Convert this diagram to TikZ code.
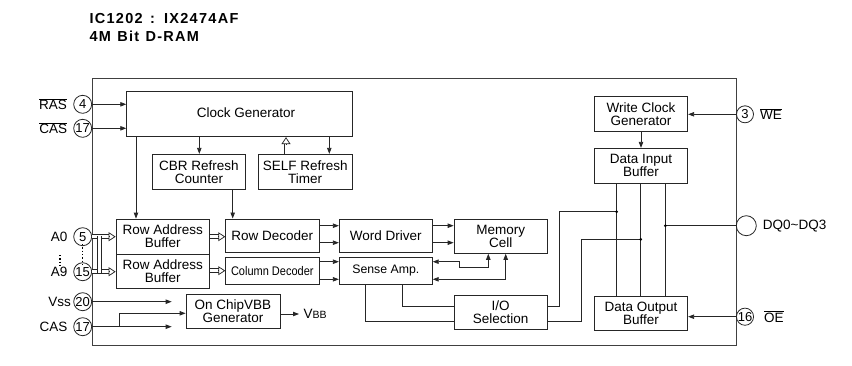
\documentclass[tikz,border=0pt]{standalone}
\usepackage{graphicx}
\usepackage{fontspec}
\setmainfont{Liberation Sans}
\newfontfamily\titlefont[LetterSpace=9]{Liberation Sans}
\usetikzlibrary{arrows.meta}
\begin{document}
\begin{tikzpicture}[x=1pt,y=-1pt,
  every node/.style={font=\fontsize{13.5}{13}\selectfont},
  box/.style={draw=black!85, line width=0.8pt, inner sep=0pt, align=center},
  ln/.style={draw=black!85, line width=0.8pt},
  arr/.style={ln, -{Triangle[length=6pt,width=4.4pt]}},
  biarr/.style={ln, {Triangle[length=6pt,width=4.4pt]}-{Triangle[length=6pt,width=4.4pt]}},
  dbl/.style={draw=black!85, line width=0.75pt, double, double distance=3pt},
  hollow/.style={dbl, shorten >=6.5pt},
  htip/.style={draw=black!85, line width=0.75pt, -{Triangle[open,length=7pt,width=9pt,line width=0.75pt]}},
  pin/.style={circle, draw=black!85, line width=0.8pt, inner sep=0pt, minimum size=18pt, font=\fontsize{13}{13}\selectfont},
  lbl/.style={inner sep=0pt},
  jdot/.style={circle, fill=black, inner sep=0pt, minimum size=3pt},
]
\useasboundingbox (0,0) rectangle (852,365);

% title
\node[lbl, anchor=base west, font=\titlefont\bfseries\fontsize{14.5}{14.5}\selectfont] (t1) at (89.3,23.3) {IC1202\hspace{2pt} :\hspace{2pt} IX2474AF};
\node[lbl, anchor=base west, font=\titlefont\bfseries\fontsize{14.5}{14.5}\selectfont] (t2) at (89.3,41.7) {4M\hspace{1pt} Bit\hspace{1pt} D-RAM};

% chip outline
\node[box, draw=black!75, minimum width=644.7pt, minimum height=267.4pt] (chip) at (414.35,212) {};

% blocks
\node[box, minimum width=225.6pt, minimum height=45pt] (clk) at (239.5,114.2) {};
\node[lbl] (clkt) at (246,113) {Clock Generator};
\node[box, minimum width=93pt, minimum height=35pt] (cbr) at (199,171.8) {CBR Refresh\\Counter};
\node[box, minimum width=93.5pt, minimum height=35pt] (self) at (305.2,171.8) {SELF Refresh\\Timer};
\node[box, minimum width=93.3pt, minimum height=35pt] (rab1) at (162.7,236.5) {Row Address\\Buffer};
\node[box, minimum width=93.3pt, minimum height=34.3pt] (rab2) at (162.7,271.2) {Row Address\\Buffer};
\node[box, minimum width=93.3pt, minimum height=33.7pt] (rowdec) at (272.3,235.8) {Row Decoder};
\node[box, minimum width=93.3pt, minimum height=26.3pt, font=\fontsize{12.5}{13}\selectfont] (coldec) at (272.3,270.8) {\scalebox{0.88}[1]{Column Decoder}};
\node[box, minimum width=93pt, minimum height=33.7pt] (wd) at (385.8,235.8) {Word Driver};
\node[box, minimum width=93pt, minimum height=26.3pt, font=\fontsize{12.3}{13}\selectfont] (sa) at (385.8,270.8) {Sense Amp.};
\node[box, minimum width=93.3pt, minimum height=34.3pt] (mem) at (500.7,236.2) {Memory\\Cell};
\node[box, minimum width=93.3pt, minimum height=33.3pt] (io) at (500.7,312.3) {I/O\\Selection};
\node[box, minimum width=94pt, minimum height=34pt] (vbb) at (233,311.3) {On ChipVBB\\Generator};
\node[box, minimum width=93.4pt, minimum height=34.3pt] (wcg) at (641,113.8) {Write Clock\\Generator};
\node[box, minimum width=93.4pt, minimum height=35pt] (dib) at (641,165.8) {Data Input\\Buffer};
\node[box, minimum width=93.4pt, minimum height=34pt] (dob) at (641,313) {Data Output\\Buffer};

% pins
\node[pin] (pras) at (82.7,104.3) {4};
\node[pin] (pcas) at (82.7,128.3) {17};
\node[pin] (pa0) at (82.7,236.7) {5};
\node[pin] (pa9) at (82.7,271.7) {15};
\node[pin] (pvss) at (82.7,301.7) {20};
\node[pin] (pcas2) at (82.7,326.7) {17};
\node[pin, minimum size=17pt] (pwe) at (745,114.3) {3};
\node[pin, minimum size=20pt] (pdq) at (746.3,225.7) {};
\node[pin, minimum size=17pt] (poe) at (745,316.7) {16};

% pin labels
\node[lbl, anchor=east] (lras) at (67,104.3) {$\overline{\mbox{RAS}}$};
\node[lbl, anchor=east] (lcas) at (67.3,128.3) {$\overline{\mbox{CAS}}$};
\node[lbl, anchor=east] (la0) at (67.7,236.7) {A0};
\node[lbl, anchor=east] (la9) at (67.7,271.7) {A9};
\node[lbl, anchor=east] (lvss) at (71,301.7) {Vss};
\node[lbl, anchor=east] (lcas2) at (67.7,326.7) {CAS};
\node[lbl, anchor=west] (lwe) at (760,114.3) {$\overline{\mbox{WE}}$};
\node[lbl, anchor=west] (ldq) at (762.7,225.7) {DQ0\textasciitilde DQ3};
\node[lbl, anchor=west] (loe) at (764,316.7) {$\overline{\mbox{OE}}$};
\node[lbl, anchor=west] (lvbb) at (303.3,314) {V{\fontsize{10.5}{10}\selectfont BB}};

% ellipsis dots
\draw[dotted, line width=1.3pt] (60,255) -- (60,266);
\draw[dotted, line width=1.3pt] ([yshift=2pt]pa0.south) -- ([yshift=-2pt]pa9.north);

% guide coordinates
\coordinate (gA) at (136,0);
\coordinate (gB) at (199.3,0);
\coordinate (gC) at (232.7,0);
\coordinate (gD) at (286,0);
\coordinate (gE) at (329.3,0);
\coordinate (yw1) at (0,225.7);
\coordinate (yw2) at (0,242.7);
\coordinate (ys1) at (0,261.7);
\coordinate (ys2) at (0,279.3);
\coordinate (ya) at (0,236.7);
\coordinate (yb) at (0,270.7);
\coordinate (sb1) at (365.7,0);
\coordinate (sb2) at (402,0);
\coordinate (yio1) at (0,306);
\coordinate (yio2) at (0,321.7);
\coordinate (k1) at (459.3,261.7);
\coordinate (m1) at (488.3,267.3);
\coordinate (m2) at (505.7,0);
\coordinate (r1) at (559.3,211.7);
\coordinate (r2) at (581,239.3);
\coordinate (dj1) at (616.7,211.7);
\coordinate (dj2) at (640.7,239.3);
\coordinate (dj3) at (665.3,225.7);
\coordinate (vs) at (171.7,301.7);
\coordinate (cs) at (171.7,326.7);
\coordinate (br) at (119.3,326.7);
\coordinate (vy) at (0,313.3);
\coordinate (vo) at (0,314);
\coordinate (vbbend) at (299,314);
\coordinate (bx) at (99.5,0);

% clock generator connections
\draw[arr] (pras.east) -- (pras.east -| clk.west);
\draw[arr] (pcas.east) -- (pcas.east -| clk.west);
\draw[arr] (clk.south -| gA) -- (rab1.north -| gA);
\draw[arr] (clk.south -| gB) -- (cbr.north -| gB);
\draw[arr] (clk.south -| gE) -- (self.north -| gE);
\draw[hollow] (self.north -| gD) -- (clk.south -| gD);
\draw[htip] ([yshift=-7pt]clk.south -| gD) -- (clk.south -| gD);
\draw[arr] (cbr.south -| gC) -- (rowdec.north -| gC);

% address inputs (hollow bus arrows)
\draw[hollow] (pa0.east) -- (pa0.east -| rab1.west);
\draw[hollow] (pa9.east) -- (pa9.east -| rab2.west);
\draw[dbl] ([yshift=1pt]pa0 -| bx) -- ([yshift=-1pt]pa9 -| bx);
\draw[htip] ([xshift=-7pt]pa0.east -| rab1.west) -- (pa0.east -| rab1.west);
\draw[htip] ([xshift=-7pt]pa9.east -| rab2.west) -- (pa9.east -| rab2.west);
\draw[hollow] (rab1.east |- ya) -- (rowdec.west |- ya);
\draw[htip] ([xshift=-7pt]rowdec.west |- ya) -- (rowdec.west |- ya);
\draw[hollow] (rab2.east |- yb) -- (coldec.west |- yb);
\draw[htip] ([xshift=-7pt]coldec.west |- yb) -- (coldec.west |- yb);

% decoders to driver / amp
\draw[arr] (rowdec.east |- yw1) -- (wd.west |- yw1);
\draw[arr] (rowdec.east |- yw2) -- (wd.west |- yw2);
\draw[arr] (coldec.east |- ys1) -- (sa.west |- ys1);
\draw[arr] (coldec.east |- ys2) -- (sa.west |- ys2);
\draw[arr] (wd.east |- yw1) -- (mem.west |- yw1);
\draw[arr] (wd.east |- yw2) -- (mem.west |- yw2);
\draw[biarr] (sa.east |- ys1) -- (k1) |- (m1) -- (mem.south -| m1);
\draw[biarr] (sa.east |- ys2) -| (mem.south -| m2);

% sense amp to I/O
\draw[ln] (sa.south -| sb1) |- (io.west |- yio2);
\draw[ln] (sa.south -| sb2) |- (io.west |- yio1);

% I/O to data buffers
\draw[ln] (io.east |- yio1) -| (r1) -- (dj1);
\draw[ln] (io.east |- yio2) -| (r2) -- (dj2);
\draw[ln] (dib.south -| dj1) -- (dob.north -| dj1);
\draw[ln] (dib.south -| dj2) -- (dob.north -| dj2);
\draw[ln] (dib.south -| dj3) -- (dob.north -| dj3);
\draw[ln] (dj3) -- (pdq.west);
\node[jdot] (d1) at (dj1) {};
\node[jdot] (d2) at (dj2) {};
\node[jdot] (d3) at (dj3) {};

% right side controls
\draw[arr] (pwe.west) -- (pwe.west -| wcg.east);
\draw[arr] (wcg.south) -- (dib.north);
\draw[arr] (poe.west) -- (poe.west -| dob.east);

% Vss / CAS / VBB
\draw[arr] (pvss.east) -- (vs);
\draw[arr] (pcas2.east) -- (cs);
\draw[arr] (br) |- (vbb.west |- vy);
\draw[arr] (vbb.east |- vo) -- (vbbend);
\end{tikzpicture}
\end{document}
